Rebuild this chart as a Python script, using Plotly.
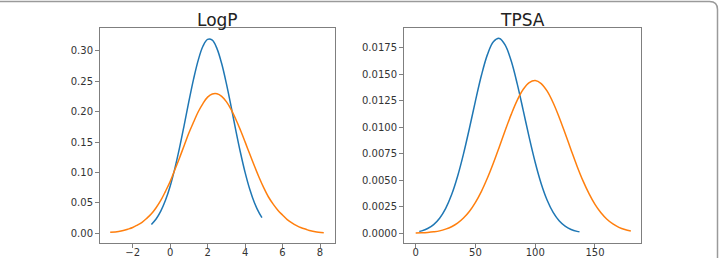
import plotly.graph_objects as go

# ---------------- data ----------------
logp_blue_x = [-1.0, -0.75, -0.5, -0.25, 0.0, 0.25, 0.5, 0.75, 1.0, 1.25, 1.5, 1.75, 2.0, 2.25,
               2.5, 2.75, 3.0, 3.25, 3.5, 3.75, 4.0, 4.25, 4.5, 4.75, 4.9]
logp_blue_y = [0.0146, 0.0235, 0.0364, 0.0542, 0.0775, 0.1065, 0.1405, 0.1781, 0.2169, 0.2537, 0.2850, 0.3077, 0.319, 0.3177,
               0.3039, 0.2793, 0.2466, 0.2092, 0.1703, 0.1333, 0.1002, 0.0724, 0.0502, 0.0335, 0.0258]

logp_orange_x = [-3.2, -2.75, -2.5, -2.25, -2.0, -1.75, -1.5, -1.25, -1.0, -0.75, -0.5, -0.25, 0.0, 0.25, 0.5, 0.75,
                 1.0, 1.25, 1.5, 1.75, 2.0, 2.25, 2.5, 2.75, 3.0, 3.25, 3.5, 3.75, 4.0, 4.25, 4.5, 4.75,
                 5.0, 5.25, 5.5, 5.75, 6.0, 6.25, 6.5, 6.75, 7.0, 7.25, 7.5, 7.75, 8.2]
logp_orange_y = [0.0015, 0.003, 0.0045, 0.0068, 0.0095, 0.0135, 0.018, 0.0245, 0.032, 0.042, 0.054, 0.069, 0.085, 0.1045, 0.124, 0.1445,
                 0.165, 0.183, 0.200, 0.2135, 0.224, 0.2292, 0.2296, 0.2254, 0.2166, 0.2040, 0.1881, 0.1699, 0.1504, 0.1303, 0.1106, 0.0919,
                 0.0748, 0.0597, 0.048, 0.038, 0.030, 0.0225, 0.017, 0.0125, 0.009, 0.0065, 0.004, 0.0025, 0.001]

tpsa_blue_x = [3, 5, 10, 15, 20, 25, 30, 35, 40, 45, 50, 55, 60, 65, 70, 75, 80, 85, 90, 95,
               100, 105, 110, 115, 120, 125, 130, 135, 137]
tpsa_blue_y = [0.00018, 0.00023, 0.00045, 0.00082, 0.00142, 0.00233, 0.00363, 0.00536, 0.00749, 0.00993, 0.01249, 0.0149,
               0.01685, 0.01807, 0.01838, 0.01773, 0.01622, 0.01407, 0.01157, 0.00902, 0.00668, 0.00468, 0.00312, 0.00197,
               0.00118, 0.00067, 0.00036, 0.00018, 0.00014]

tpsa_orange_x = [0, 5, 10, 15, 20, 25, 30, 35, 40, 45, 50, 55, 60, 65, 70, 75, 80, 85, 90, 95, 100,
                 105, 110, 115, 120, 125, 130, 135, 140, 145, 150, 155, 160, 165, 170, 175, 180]
tpsa_orange_y = [0.00002, 0.00004, 0.00008, 0.00014, 0.00023, 0.00039, 0.00062, 0.00096, 0.00144, 0.00208, 0.00292, 0.00396,
                 0.00521, 0.00663, 0.00817, 0.00974, 0.01124, 0.01256, 0.01358, 0.01421, 0.0144,
                 0.01412, 0.0134, 0.01231, 0.01095, 0.00943, 0.00786, 0.00633, 0.00494, 0.00374, 0.00273, 0.00194,
                 0.00133, 0.00088, 0.00056, 0.00035, 0.00021]

titles = ["LogP", "TPSA"]
logp_xticks = [-2, 0, 2, 4, 6, 8]
logp_xtext = ["\u22122", "0", "2", "4", "6", "8"]
logp_yticks = [0.00, 0.05, 0.10, 0.15, 0.20, 0.25, 0.30]
tpsa_xticks = [0, 50, 100, 150]
tpsa_yticks = [0.0, 0.0025, 0.005, 0.0075, 0.01, 0.0125, 0.015, 0.0175]

# ---------------- layout helpers ----------------
W, H = 719, 258
def PX(px):
    return px / W
def PY(py):
    return 1 - py / H

BLUE = "#1f77b4"
ORANGE = "#ff7f0e"
FONT = "DejaVu Sans"
AXC = "#7f7f7f"
TXT = "#333333"

fig = go.Figure()
line_kw = dict(width=1.5, shape="spline", smoothing=1.0)
fig.add_trace(go.Scatter(x=logp_blue_x, y=logp_blue_y, mode="lines", line=dict(color=BLUE, **line_kw), xaxis="x", yaxis="y"))
fig.add_trace(go.Scatter(x=logp_orange_x, y=logp_orange_y, mode="lines", line=dict(color=ORANGE, **line_kw), xaxis="x", yaxis="y"))
fig.add_trace(go.Scatter(x=tpsa_blue_x, y=tpsa_blue_y, mode="lines", line=dict(color=BLUE, **line_kw), xaxis="x2", yaxis="y2"))
fig.add_trace(go.Scatter(x=tpsa_orange_x, y=tpsa_orange_y, mode="lines", line=dict(color=ORANGE, **line_kw), xaxis="x2", yaxis="y2"))

ax_common = dict(showline=True, mirror=True, linecolor=AXC, linewidth=1, showgrid=False, zeroline=False,
                 ticks="outside", ticklen=4, tickwidth=1, tickcolor=AXC, automargin=False,
                 tickfont=dict(family=FONT, size=10, color=TXT))

ydom = [PY(243), PY(28)]
fig.update_layout(
    width=W, height=H, margin=dict(l=0, r=0, t=0, b=0),
    paper_bgcolor="white", plot_bgcolor="white", showlegend=False,
    template="none",
    xaxis=dict(domain=[PX(100), PX(335)], range=[-3.744, 8.8], anchor="y",
               tickvals=logp_xticks, ticktext=logp_xtext, ticklabelstandoff=-4, **ax_common),
    yaxis=dict(domain=ydom, range=[-0.016, 0.3378], anchor="x",
               tickvals=logp_yticks, tickformat=".2f", **ax_common),
    xaxis2=dict(domain=[PX(404), PX(641)], range=[-9.79, 188.5], anchor="y2",
                tickvals=tpsa_xticks, ticklabelstandoff=-4, **ax_common),
    yaxis2=dict(domain=ydom, range=[-0.000915, 0.01936], anchor="x2",
                tickvals=tpsa_yticks, tickformat=".4f", **ax_common),
)

for t, cx in zip(titles, [(100 + 335) / 2, (404 + 641) / 2]):
    fig.add_annotation(text=t, x=PX(cx), y=PY(20), xref="paper", yref="paper",
                       xanchor="center", yanchor="middle", showarrow=False,
                       font=dict(family=FONT, size=17, color="#222222"))

# outer frame (top edge + rounded top-right corner + right edge)
path = (f"M {PX(0)},{PY(1.5)} L {PX(709.5)},{PY(1.5)} "
        f"Q {PX(717.5)},{PY(1.5)} {PX(717.5)},{PY(9.5)} L {PX(717.5)},{PY(258)}")
fig.add_shape(type="path", path=path, xref="paper", yref="paper",
              line=dict(color="#9a9a9a", width=1.5))

fig.write_html("out.html")
